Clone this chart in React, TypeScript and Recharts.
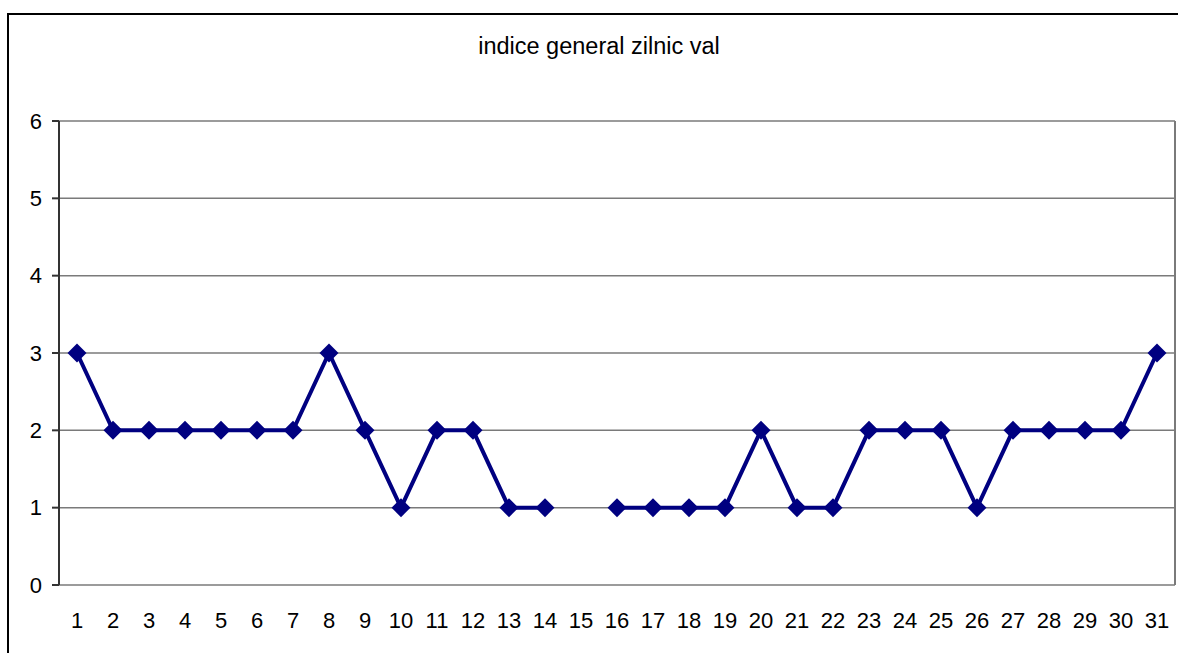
import { CartesianGrid, Line, LineChart, ReferenceLine, XAxis, YAxis } from 'recharts'

const TITLE = 'indice general zilnic val'

// Days of the month (x categories)
const DAYS = [
  1, 2, 3, 4, 5, 6, 7, 8, 9, 10, 11, 12, 13, 14, 15, 16, 17, 18, 19, 20, 21, 22, 23, 24, 25, 26, 27, 28, 29, 30, 31,
]

// Daily index; day 15 has no reading
const VALUES: (number | null)[] = [
  3, 2, 2, 2, 2, 2, 2, 3, 2, 1, 2, 2, 1, 1, null, 1, 1, 1, 1, 2, 1, 1, 2, 2, 2, 1, 2, 2, 2, 2, 3,
]

const Y_TICKS = [0, 1, 2, 3, 4, 5, 6]

const SERIES_COLOR = '#000080'
const GRID_COLOR = '#7a7a7a'
const AXIS_COLOR = '#333333'
const FONT = '"Liberation Sans", Arial, sans-serif'

const data = DAYS.map((day, i) => ({ day, value: VALUES[i] }))

// tick marks sit between the categories, like Excel
const edgeTicks = [...DAYS.map((d) => d - 0.5), DAYS[DAYS.length - 1] + 0.5]
const xDomain: [number, number] = [edgeTicks[0], edgeTicks[edgeTicks.length - 1]]

function Diamond(props: any) {
  const { cx, cy, value } = props
  if (value == null || cx == null || cy == null) return null
  const r = 9.5
  return (
    <polygon
      points={`${cx},${cy - r} ${cx + r},${cy} ${cx},${cy + r} ${cx - r},${cy}`}
      fill={SERIES_COLOR}
      stroke="none"
    />
  )
}

export default function App() {
  return (
    <div
      style={{
        position: 'fixed',
        left: 0,
        top: 0,
        width: 1178,
        height: 653,
        overflow: 'hidden',
        background: '#fff',
        fontFamily: FONT,
      }}
    >
      <div
        style={{
          position: 'absolute',
          left: 7,
          top: 13,
          width: 1220,
          height: 700,
          border: '2px solid #000',
        }}
      />
      <div
        style={{
          position: 'absolute',
          left: 0,
          width: 1198,
          top: 33,
          textAlign: 'center',
          fontSize: 23.5,
          color: '#000',
        }}
      >
        {TITLE}
      </div>
      <LineChart
        width={1178}
        height={653}
        data={data}
        margin={{ top: 121, right: 3, bottom: 8, left: 0 }}
        style={{ position: 'absolute', left: 0, top: 0 }}
      >
        <CartesianGrid vertical={false} stroke={GRID_COLOR} strokeWidth={1.5} />
        <XAxis
          xAxisId="edges"
          type="number"
          dataKey="day"
          domain={xDomain}
          ticks={edgeTicks}
          tickFormatter={() => ''}
          height={0}
          tickSize={6}
          stroke={AXIS_COLOR}
          strokeWidth={2}
          allowDataOverflow
        />
        <XAxis
          type="number"
          dataKey="day"
          domain={xDomain}
          ticks={DAYS}
          interval={0}
          height={60}
          axisLine={false}
          tickLine={false}
          tickSize={0}
          tickMargin={27}
          tick={{ fill: '#000', fontSize: 22, fontFamily: FONT }}
          allowDataOverflow
        />
        <YAxis
          type="number"
          domain={[0, 6]}
          ticks={Y_TICKS}
          interval={0}
          width={59}
          tickSize={7}
          tickMargin={10}
          stroke={AXIS_COLOR}
          strokeWidth={2}
          tick={{ fill: '#000', fontSize: 22, fontFamily: FONT }}
        />
        <ReferenceLine x={xDomain[1]} stroke={GRID_COLOR} strokeWidth={2} />
        <Line
          type="linear"
          dataKey="value"
          stroke={SERIES_COLOR}
          strokeWidth={4}
          dot={<Diamond />}
          activeDot={false}
          connectNulls={false}
          isAnimationActive={false}
        />
      </LineChart>
    </div>
  )
}
